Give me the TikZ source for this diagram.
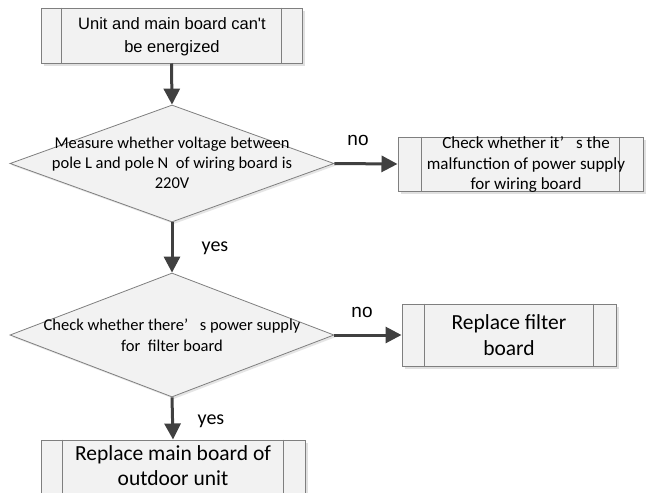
\documentclass[tikz,border=0pt]{standalone}
\usepackage{fontspec}
\setmainfont{Carlito}
\newfontfamily\arialf{Liberation Sans}
\usetikzlibrary{shapes.geometric,arrows.meta,shadows,calc}
\definecolor{edgegray}{HTML}{7F7F7F}
\definecolor{arrgray}{HTML}{404040}
\definecolor{fillgray}{HTML}{F2F2F2}
\tikzset{
  procbox/.style={draw=edgegray, line width=1pt, fill=fillgray, rectangle, inner sep=0pt,
    drop shadow={shadow xshift=3pt, shadow yshift=-3pt, fill=black!12, opacity=1}},
  decbox/.style={draw=edgegray, line width=0.8pt, fill=fillgray, diamond, inner sep=0pt, shape aspect=2,
    drop shadow={shadow xshift=2pt, shadow yshift=-2pt, fill=black!10, opacity=1}},
  flowarrow/.style={draw=arrgray, line width=3pt, -{Triangle[length=16pt,width=16pt]}},
  boxtext/.style={align=center, text=black},
  lbl/.style={text=black}
}
\newcommand{\sidebars}[2]{%
  \draw[edgegray, line width=1pt] ($(#1.north west)+(#2,0)$) -- ($(#1.south west)+(#2,0)$);
  \draw[edgegray, line width=1pt] ($(#1.north east)+(-#2,0)$) -- ($(#1.south east)+(-#2,0)$);
}
\begin{document}
\begin{tikzpicture}[x=1pt,y=-1pt]
\useasboundingbox[fill=white] (0,0) rectangle (646,493);

% box 1
\node[procbox, minimum width=261pt, minimum height=55pt] (b1) at (171.5,35.5) {};
\sidebars{b1}{21pt}
\node[boxtext, font=\arialf\fontsize{16.5}{23}\selectfont] (t1) at (172,37) {Unit and main board can't\\be energized};

% diamond 1
\node[decbox, minimum width=324pt, minimum height=117pt] (d1) at (172,163.5) {};
\node[boxtext, font=\fontsize{16.5}{20}\selectfont] (t2) at (172,163) {Measure whether voltage between\\pole L and pole N\ \ of wiring board is\\220V};

% box 2
\node[procbox, minimum width=245pt, minimum height=54pt] (b2) at (520.5,164) {};
\sidebars{b2}{24pt}
\node[boxtext, font=\fontsize{17}{20.5}\selectfont] (t3) at (526,164.5) {Check whether it’\hspace{0.7em}s the\\malfunction of power supply\\for wiring board};

% diamond 2
\node[decbox, minimum width=324pt, minimum height=124pt] (d2) at (172,335) {};
\node[boxtext, font=\fontsize{16.5}{21}\selectfont] (t4) at (172,335.5) {Check whether there’\hspace{0.7em}s power supply\\for\ \ filter board};

% box 3
\node[procbox, minimum width=214pt, minimum height=62pt] (b3) at (509,335) {};
\sidebars{b3}{23pt}
\node[boxtext, font=\fontsize{21.5}{26}\selectfont] (t5) at (b3.center) {Replace filter\\board};

% box 4
\node[procbox, minimum width=264pt, minimum height=62pt] (b4) at (173,471) {};
\sidebars{b4}{22pt}
\node[boxtext, font=\fontsize{21.5}{25}\selectfont] (t6) at (173,466) {Replace main board of\\outdoor unit};

% arrows
\draw[flowarrow] (b1.south) -- (d1.north);
\draw[flowarrow] (d1.east) -- (b2.west);
\draw[flowarrow] (d1.south) -- (d2.north);
\draw[flowarrow] (d2.east) -- (b3.west);
\draw[flowarrow] (d2.south) -- (b4.north);

% labels
\node[lbl, font=\arialf\fontsize{19}{22}\selectfont] (n1) at (358,140) {no};
\node[lbl, font=\fontsize{20}{22}\selectfont] (y1) at (215,248) {yes};
\node[lbl, font=\arialf\fontsize{19}{22}\selectfont] (n2) at (362,312) {no};
\node[lbl, font=\fontsize{20}{22}\selectfont] (y2) at (211,421) {yes};
\end{tikzpicture}
\end{document}
